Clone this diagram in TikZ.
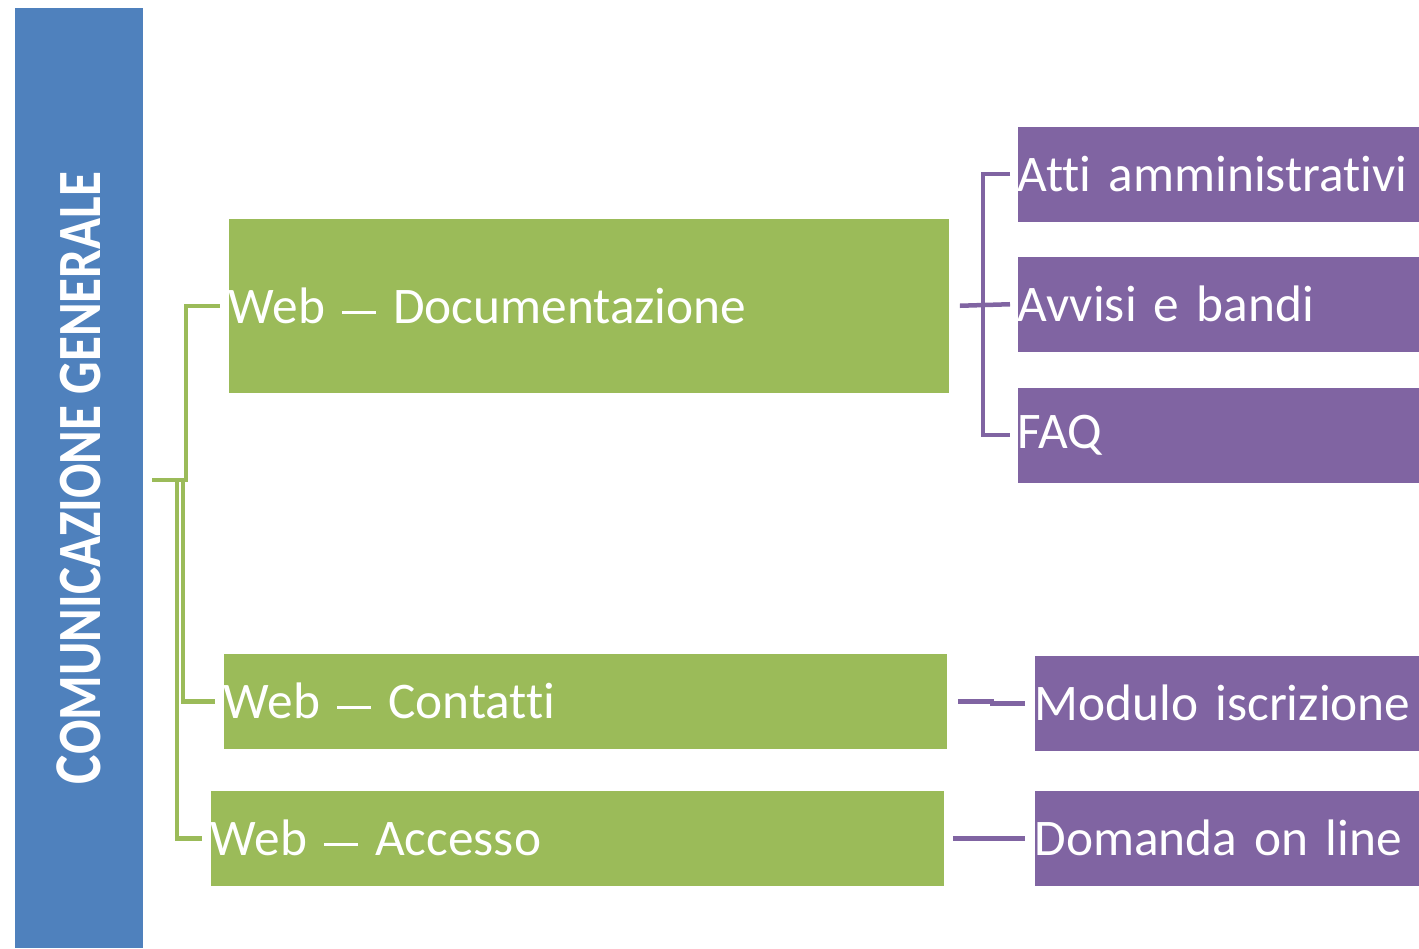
\documentclass[tikz,border=0pt]{standalone}
\usepackage{fontspec}
\setmainfont[Ligatures=NoCommon]{Carlito}
\usepackage{graphicx}
\definecolor{titleblue}{HTML}{4F81BD}
\definecolor{webgreen}{HTML}{9BBB59}
\definecolor{subpurple}{HTML}{8064A2}
\newcommand{\longdash}{\rule[0.19em]{0.66em}{0.06em}}
\newcommand{\boxfont}{\fontsize{14.6}{17}\selectfont\spaceskip=0.18em\relax}

\begin{document}
\begin{tikzpicture}[x=0.01cm, y=-0.01cm,
    box/.style={anchor=north west, inner sep=0pt, text=white, align=left,
        font=\boxfont},
    webbox/.style={box, fill=webgreen},
    subbox/.style={box, fill=subpurple},
    webline/.style={draw=webgreen, line width=0.45mm},
    subline/.style={draw=subpurple, line width=0.45mm}]
    \useasboundingbox (0,0) rectangle (1419,948);

    % title bar
    \node[fill=titleblue, rotate=90, minimum width=9.4cm, minimum height=1.28cm,
        inner sep=0pt, text=white, font=\bfseries] (title) at (79,478)
        {\scalebox{0.83}[1]{{\fontsize{19}{20}\selectfont C}{\fontsize{17.5}{20}\selectfont OMUNICAZIONE GENERALE}}};

    % web pages
    \node[webbox, text width=7.2cm, minimum height=1.74cm] (doc) at (228,218) {Web \longdash{} Documentazione};
    \node[webbox, text width=7.23cm, minimum height=0.95cm] (contatti) at (223,653) {Web \longdash{} Contatti};
    \node[webbox, text width=7.33cm, minimum height=0.95cm] (accesso) at (210,790) {Web \longdash{} Accesso};

    % contents
    \node[subbox, text width=4.02cm, minimum height=0.95cm] (atti) at (1017,126) {Atti amministrativi};
    \node[subbox, text width=4.02cm, minimum height=0.95cm] (avvisi) at (1017,256) {Avvisi e bandi};
    \node[subbox, text width=4.02cm, minimum height=0.95cm] (faq) at (1017,387) {FAQ};
    \node[subbox, text width=3.85cm, minimum height=0.95cm] (modulo) at (1034,655) {Modulo iscrizione};
    \node[subbox, text width=3.85cm, minimum height=0.95cm] (domanda) at (1034,790) {Domanda on line};

    % green tree
    \coordinate (root) at (152,480);
    \draw[webline] (root) -- ++(0.34cm,0) |- ([xshift=-0.08cm]doc.west);
    \draw[webline] ([xshift=0.31cm]root) |- ([xshift=-0.08cm]contatti.west);
    \draw[webline] ([xshift=0.25cm]root) |- ([xshift=-0.08cm]accesso.west);

    % purple tree
    \draw[subline] ([xshift=0.1cm]doc.east) -- ([xshift=-0.07cm]avvisi.west);
    \draw[subline] ([xshift=-0.07cm]atti.west) -| ([xshift=-0.34cm]avvisi.west)
        |- ([xshift=-0.07cm]faq.west);
    \draw[subline] ([xshift=0.1cm]contatti.east) -- ++(0.34cm,0)
        |- ([xshift=-0.09cm]modulo.west);
    \draw[subline] ([xshift=0.08cm]accesso.east) -- ([xshift=-0.09cm]domanda.west);
\end{tikzpicture}
\end{document}
